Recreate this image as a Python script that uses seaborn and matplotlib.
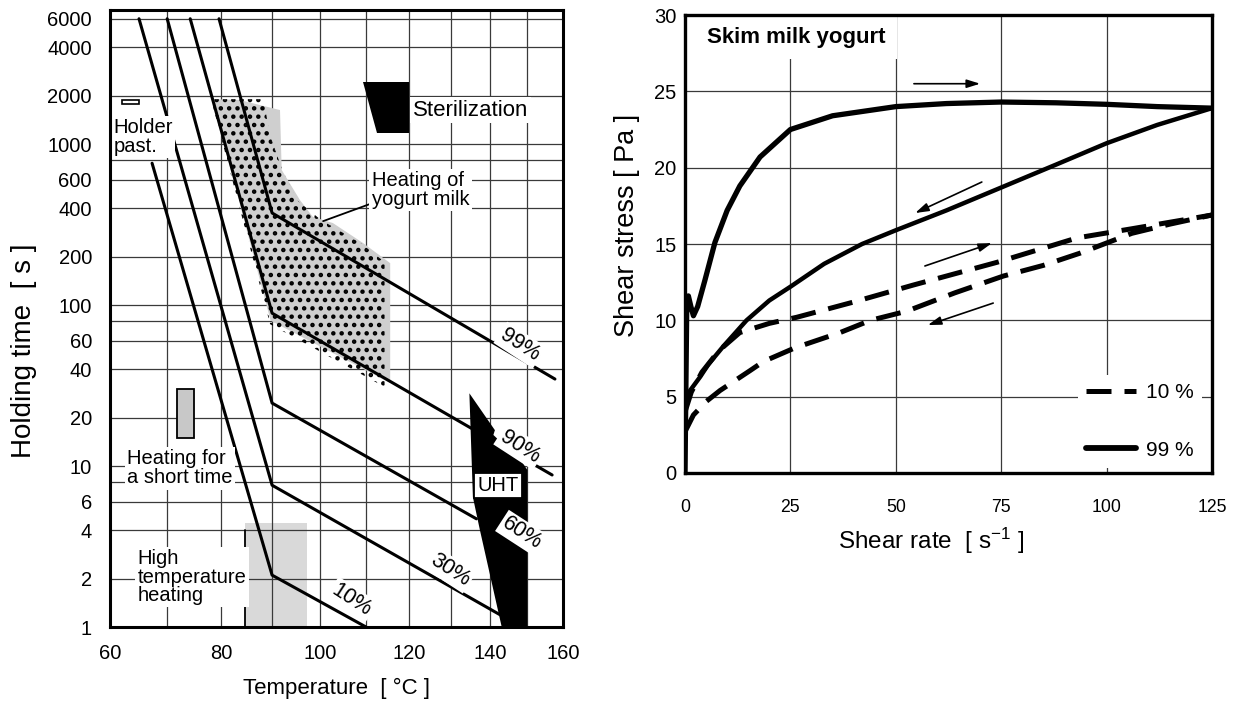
import numpy as np
import pandas as pd
import matplotlib
matplotlib.use("Agg")
import matplotlib.pyplot as plt
import seaborn as sns
from matplotlib.ticker import NullFormatter
from matplotlib.lines import Line2D

# ---------------- Left panel: holding time vs temperature ----------------
temp_ticks = [60, 80, 100, 120, 140, 160]
temp_grid = [70, 90, 110, 130, 150]
time_ticks = [1, 2, 4, 6, 10, 20, 40, 60, 100, 200, 400, 600, 1000, 2000, 4000, 6000]
time_grid = [8, 80, 800]

levels = ["10%", "30%", "60%", "90%", "99%"]
temp_10 = [67.3, 90, 110]
time_10 = [760, 2.1, 1.0]
temp_30 = [65.0, 90, 142.7]
time_30 = [6000, 7.6, 1.19]
temp_60 = [70.0, 90, 136.5]
time_60 = [6000, 24.6, 4.7]
temp_90 = [74.2, 90, 156.9]
time_90 = [6000, 89, 8.8]
temp_99 = [79.6, 90, 157.7]
time_99 = [6000, 373, 34.7]

label_temp = [106.8, 129.8, 148.5, 148.0, 148.0]
label_time = [1.47, 2.26, 3.82, 13.2, 56.4]

holder_temp = [62.0, 65.0]
holder_time = [1770, 1880]
short_temp = [71.8, 74.9]
short_time = [15, 30]
hth_temp = [84.7, 97.2]
hth_time = [1, 4.4]
ster_temp = [109.3, 120.0, 120.0, 112.5]
ster_time = [2430, 2430, 1170, 1170]
uht_temp = [134.7, 141.3, 140.9, 148.8, 150.0, 150.0, 143.1, 137.4, 135.6]
uht_time = [28.3, 16.7, 15.6, 10.4, 9.45, 1.0, 1.0, 4.0, 6.4]
yog_temp = [78.3, 83.6, 91.6, 91.95, 95.7, 98.4, 102.7, 109.3, 115.5, 115.5, 89.7]
yog_time = [1900, 1877, 1626, 690, 449, 353, 323, 243, 182, 32.8, 80]
dot_temp = [78.1, 88.3, 89.5, 92.0, 95.0, 100.0, 109.0, 114.2, 114.2, 89.6]
dot_time = [1900, 1900, 1150, 700, 450, 340, 240, 185, 31, 76]

# ---------------- Right panel: flow curves ----------------
rate_ticks = [0, 25, 50, 75, 100, 125]
stress_ticks = [0, 5, 10, 15, 20, 25, 30]

up99_x = [0, 0.4, 0.8, 1.4, 2.0, 3.0, 4.7, 7.1, 10, 13, 17.8, 25, 35, 50, 62, 75, 88, 100, 112, 125]
up99_y = [0, 10.5, 11.6, 10.9, 10.3, 10.9, 12.6, 15.1, 17.2, 18.8, 20.7, 22.5, 23.4, 24.0, 24.2, 24.3, 24.25, 24.15, 24.0, 23.9]
down99_x = [125, 112, 100, 88, 75, 62, 50, 42, 33, 25, 20, 14.6, 9.1, 5.5, 3.6, 1.2, 0]
down99_y = [23.9, 22.8, 21.6, 20.2, 18.7, 17.2, 15.9, 15.0, 13.7, 12.2, 11.3, 10.0, 8.3, 7.1, 6.3, 5.4, 4.6]
up10_x = [0, 1.5, 4, 8, 13, 20, 26.5, 40, 54, 74, 93, 106, 125]
up10_y = [4.0, 5.3, 6.6, 8.0, 9.2, 9.8, 10.2, 11.2, 12.3, 13.8, 15.4, 16.0, 16.9]
down10_x = [0, 2, 5.1, 8.3, 15.4, 18.6, 26.1, 36.8, 44, 52.6, 64, 75.5, 85, 93.7, 106, 115, 125]
down10_y = [2.7, 3.8, 4.7, 5.4, 6.7, 7.3, 8.2, 9.2, 10.0, 10.6, 11.8, 12.9, 13.6, 14.4, 15.7, 16.3, 16.9]

arrow_x0 = [54.3, 70.4, 56.9, 73.1]
arrow_y0 = [25.5, 19.06, 13.56, 11.13]
arrow_x1 = [70.0, 54.6, 72.8, 57.6]
arrow_y1 = [25.5, 17.03, 15.06, 9.69]

# ---------------- Style ----------------
sns.set_style("white")
plt.rcParams["font.family"] = ["Liberation Sans", "DejaVu Sans"]
plt.rcParams["hatch.linewidth"] = 2.0
plt.rcParams["mathtext.default"] = "regular"
for key in ["text.color", "axes.labelcolor", "xtick.color", "ytick.color"]:
    plt.rcParams[key] = "black"
narrow = ["Liberation Sans Narrow", "Liberation Sans", "DejaVu Sans"]
GRID = "#3a3a3a"

fig = plt.figure(figsize=(12.36, 7.05), dpi=100)
ax1 = fig.add_axes([0.0890, 0.1106, 0.3665, 0.8752])
ax2 = fig.add_axes([0.5542, 0.3291, 0.4264, 0.6496])


def fwd(T):
    T = np.asarray(T, dtype=float)
    with np.errstate(divide="ignore", invalid="ignore"):
        return -1.0 / (T + 273.15)


def inv(u):
    u = np.asarray(u, dtype=float)
    with np.errstate(divide="ignore", invalid="ignore"):
        return -1.0 / u - 273.15


ax1.set_xscale("function", functions=(fwd, inv))
ax1.set_yscale("log")

# percentage lines
rows = []
for lvl, ts, hs in zip(levels, [temp_10, temp_30, temp_60, temp_90, temp_99],
                       [time_10, time_30, time_60, time_90, time_99]):
    for T, h in zip(ts, hs):
        rows.append({"level": lvl, "temp": T, "time": h})
lines_df = pd.DataFrame(rows)
sns.lineplot(data=lines_df, x="temp", y="time", hue="level",
             palette={l: "black" for l in levels}, estimator=None, sort=False,
             legend=False, lw=2.2, ax=ax1, zorder=2)

# regions
ax1.fill([hth_temp[0], hth_temp[1], hth_temp[1], hth_temp[0]],
         [hth_time[0], hth_time[0], hth_time[1], hth_time[1]],
         color="#d9d9d9", lw=0, zorder=0.3)
ax1.plot([hth_temp[0], hth_temp[0]], [hth_time[0], 4.0], color="black", lw=1.3, zorder=2)
ax1.fill(yog_temp, yog_time, color="#cfcfcf", lw=0, zorder=1)
ax1.fill(dot_temp, dot_time, facecolor="none", edgecolor="black", lw=0, hatch="..", zorder=1.1)
ax1.fill([short_temp[0], short_temp[1], short_temp[1], short_temp[0]],
         [short_time[0], short_time[0], short_time[1], short_time[1]],
         facecolor="#c8c8c8", edgecolor="black", lw=1.3, zorder=1)
ax1.fill([holder_temp[0], holder_temp[1], holder_temp[1], holder_temp[0]],
         [holder_time[0], holder_time[0], holder_time[1], holder_time[1]],
         facecolor="white", edgecolor="black", lw=1.2, zorder=3)
ax1.fill(ster_temp, ster_time, color="black", lw=0, zorder=2.5)
ax1.fill(uht_temp, uht_time, color="black", lw=0, zorder=2.5)

# labels for the lines
for lvl, T, h in zip(levels, label_temp, label_time):
    ax1.text(T, h, lvl, rotation=-33, rotation_mode="anchor", ha="center", va="center",
             fontsize=15.5, zorder=5,
             bbox=dict(boxstyle="square,pad=0.1", fc="white", ec="none"))

txt_box = dict(boxstyle="square,pad=0.12", fc="white", ec="none")
ax1.text(60.6, 1105, "Holder\npast.", ha="left", va="center", fontsize=14.5,
         linespacing=1.0, zorder=5, bbox=txt_box)
ax1.text(62.9, 9.7, "Heating for\na short time", ha="left", va="center", fontsize=14.5,
         linespacing=1.0, zorder=5, bbox=txt_box)
ax1.text(64.8, 2.04, "High\ntemperature\nheating", ha="left", va="center", fontsize=14.5,
         linespacing=0.95, zorder=5, bbox=txt_box)
ax1.text(120.8, 1626, "Sterilization", ha="left", va="center", fontsize=16, zorder=5,
         bbox=txt_box)
ax1.annotate("Heating of\nyogurt milk", xy=(100.6, 332), xytext=(111.3, 518),
             ha="left", va="center", fontsize=14.5, linespacing=1.0, zorder=5,
             bbox=txt_box,
             arrowprops=dict(arrowstyle="-", relpos=(0.0, 0.15), shrinkA=0, shrinkB=0,
                             lw=1.3, color="black"))
ax1.text(142.1, 7.6, "UHT", ha="center", va="center", fontsize=14.5, zorder=5,
         bbox=dict(boxstyle="square,pad=0.15", fc="white", ec="black", lw=1.3))

ax1.set_xlim(60, 160)
ax1.set_ylim(1, 6800)
ax1.set_xticks(temp_ticks, labels=[str(v) for v in temp_ticks])
ax1.set_xticks(temp_grid, minor=True)
ax1.xaxis.set_minor_formatter(NullFormatter())
ax1.set_yticks(time_ticks, labels=[str(v) for v in time_ticks])
ax1.set_yticks(time_grid, minor=True)
ax1.yaxis.set_minor_formatter(NullFormatter())
ax1.set_axisbelow(True)
ax1.grid(True, which="both", color=GRID, lw=0.9)
ax1.tick_params(which="both", length=0, labelsize=14.5, labelcolor="black")
ax1.tick_params(axis="y", pad=13)
ax1.tick_params(axis="x", pad=12)
ax1.set_xlabel("Temperature  [ °C ]", fontsize=16)
ax1.set_ylabel("Holding time  [ s ]", fontsize=20)
ax1.xaxis.set_label_coords(0.5, -0.099)
ax1.xaxis.label.set_va("center")
ax1.yaxis.set_label_coords(-0.19, 0.447)
ax1.yaxis.label.set_va("center")
for s in ax1.spines.values():
    s.set_linewidth(2.2)
    s.set_color("black")
    s.set_zorder(10)

# ---------------- Right panel ----------------
sns.lineplot(x=up99_x, y=up99_y, sort=False, estimator=None, color="black", lw=3.8, ax=ax2)
sns.lineplot(x=down99_x, y=down99_y, sort=False, estimator=None, color="black", lw=3.2, ax=ax2)
sns.lineplot(x=up10_x, y=up10_y, sort=False, estimator=None, color="black", lw=3.6,
             linestyle=(0, (5, 2.6)), ax=ax2)
sns.lineplot(x=down10_x, y=down10_y, sort=False, estimator=None, color="black", lw=3.6,
             linestyle=(0, (5, 2.6)), ax=ax2)

for x0, y0, x1, y1 in zip(arrow_x0, arrow_y0, arrow_x1, arrow_y1):
    ax2.annotate("", xy=(x1, y1), xytext=(x0, y0),
                 arrowprops=dict(arrowstyle="-|>,head_length=0.8,head_width=0.25",
                                 color="black", lw=1.2, shrinkA=0, shrinkB=0))

ax2.text(5.2, 28.55, "Skim milk yogurt", ha="left", va="center", fontsize=16,
         fontweight="bold", family=narrow, zorder=5,
         bbox=dict(boxstyle="square,pad=0.5", fc="white", ec="none"))

handles = [Line2D([], [], color="black", lw=3.6, linestyle=(0, (5, 2.6))),
           Line2D([], [], color="black", lw=4.2)]
leg = ax2.legend(handles, ["10 %", "99 %"], loc="lower right",
                 bbox_to_anchor=(1.0, -0.012), frameon=True, framealpha=1,
                 facecolor="white", edgecolor="none", fancybox=False,
                 handlelength=2.4, handletextpad=0.45, labelspacing=1.85, borderpad=0.4,
                 prop={"family": narrow, "size": 15})
leg.set_zorder(6)

ax2.set_xlim(0, 125)
ax2.set_ylim(0, 30)
ax2.set_xticks(rate_ticks, labels=[str(v) for v in rate_ticks])
ax2.set_yticks(stress_ticks, labels=[str(v) for v in stress_ticks])
for lab in ax2.get_xticklabels():
    lab.set_family(narrow)
    lab.set_fontsize(12.7)
for lab in ax2.get_yticklabels():
    lab.set_family(narrow)
    lab.set_fontsize(14.5)
ax2.set_axisbelow(True)
ax2.grid(True, color=GRID, lw=0.9)
ax2.tick_params(length=0, labelcolor="black")
ax2.tick_params(axis="x", pad=19)
ax2.tick_params(axis="y", pad=6)
ax2.set_xlabel("Shear rate  [ s$^{-1}$ ]", fontsize=17.5, family=narrow)
ax2.set_ylabel("Shear stress [ Pa ]", fontsize=19.5, family=narrow)
ax2.xaxis.set_label_coords(0.467, -0.148)
ax2.xaxis.label.set_va("center")
ax2.yaxis.set_label_coords(-0.11, 0.54)
ax2.yaxis.label.set_va("center")
for s in ax2.spines.values():
    s.set_linewidth(2.4)
    s.set_color("black")
    s.set_zorder(10)

fig.savefig("out.png", dpi=100)
